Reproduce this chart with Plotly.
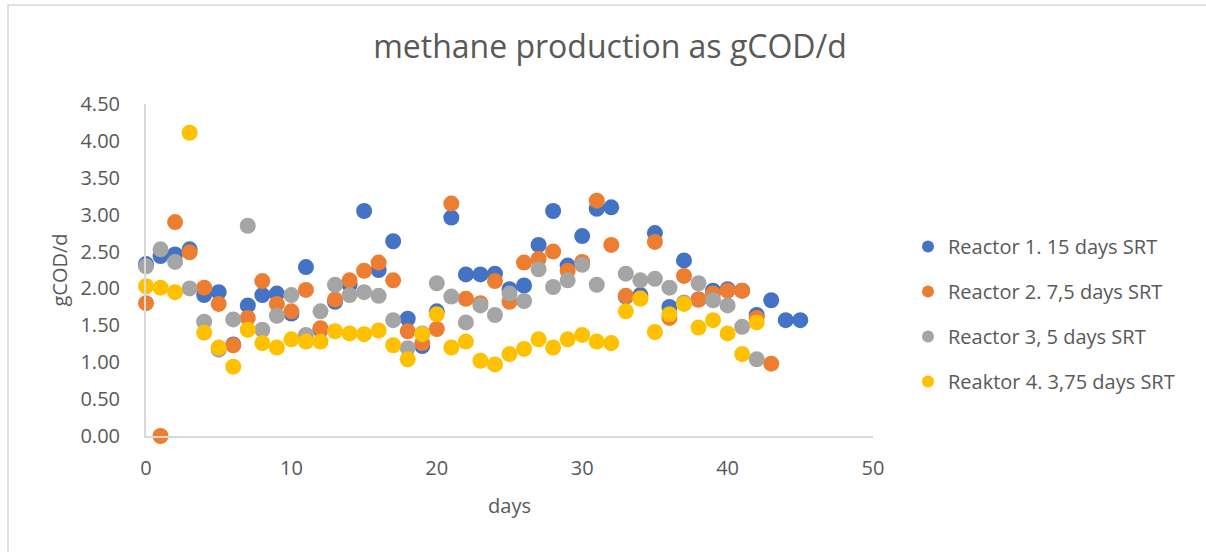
import plotly.graph_objects as go

# Methane production (gCOD/d) per reactor, sampled daily
days_r1 = list(range(0, 46))
reactor1 = [2.33, 2.44, 2.46, 2.53, 1.91, 1.95, 1.24, 1.77, 1.91, 1.93,
            1.66, 2.29, 1.44, 1.82, 2.05, 3.05, 2.25, 2.64, 1.59, 1.22,
            1.69, 2.96, 2.19, 2.19, 2.20, 1.99, 2.04, 2.59, 3.05, 2.31,
            2.71, 3.08, 3.10, 1.89, 1.91, 2.75, 1.75, 2.38, 1.85, 1.97,
            1.99, 1.97, 1.64, 1.84, 1.57, 1.57]

days_r2 = list(range(0, 44))
reactor2 = [1.80, 0.00, 2.90, 2.49, 2.01, 1.79, 1.23, 1.60, 2.10, 1.79,
            1.69, 1.98, 1.46, 1.85, 2.11, 2.24, 2.35, 2.11, 1.42, 1.26,
            1.45, 3.15, 1.86, 1.80, 2.10, 1.82, 2.35, 2.40, 2.50, 2.24,
            2.36, 3.19, 2.59, 1.90, 1.87, 2.63, 1.60, 2.17, 1.85, 1.93,
            1.97, 1.97, 1.60, 0.98]

days_r3 = list(range(0, 43))
reactor3 = [2.30, 2.53, 2.36, 2.00, 1.55, 1.17, 1.58, 2.85, 1.44, 1.63,
            1.91, 1.37, 1.69, 2.05, 1.91, 1.95, 1.90, 1.57, 1.19, 1.39,
            2.07, 1.89, 1.54, 1.77, 1.64, 1.93, 1.83, 2.26, 2.02, 2.11,
            2.32, 2.05, None, 2.20, 2.11, 2.13, 2.01, 1.81, 2.07, 1.84,
            1.77, 1.48, 1.04]

days_r4 = list(range(0, 43))
reactor4 = [2.03, 2.01, 1.95, 4.11, 1.40, 1.20, 0.94, 1.44, 1.26, 1.20,
            1.31, 1.28, 1.28, 1.42, 1.39, 1.38, 1.43, 1.23, 1.04, 1.38,
            1.65, 1.20, 1.28, 1.02, 0.97, 1.11, 1.18, 1.31, 1.20, 1.31,
            1.37, 1.28, 1.26, 1.69, 1.86, 1.41, 1.65, 1.79, 1.47, 1.57,
            1.39, 1.11, 1.54]

series = [
    ("Reactor 1. 15 days SRT", days_r1, reactor1, "#4472C4"),
    ("Reactor 2. 7,5 days SRT", days_r2, reactor2, "#ED7D31"),
    ("Reactor 3, 5 days SRT", days_r3, reactor3, "#A5A5A5"),
    ("Reaktor 4. 3,75 days SRT", days_r4, reactor4, "#FFC000"),
]

x_ticks = [0, 10, 20, 30, 40, 50]
y_ticks = [0, 0.5, 1.0, 1.5, 2.0, 2.5, 3.0, 3.5, 4.0, 4.5]

FONT = "Open Sans"
TEXT = "#595959"
W, H = 1206, 552
L, R, T, B = 146, 873, 104, 436

fig = go.Figure()
for i, (name, xs, ys, col) in enumerate(series):
    fig.add_trace(go.Scatter(
        x=xs, y=ys, mode="markers", name=name,
        legendgroup=f"g{i}",
        marker=dict(color=col, size=16, line=dict(width=0)),
        cliponaxis=False,
    ))

def px_x(p):
    return (p - L) / (R - L)

def px_y(p):
    return (B - p) / (B - T)

fig.update_layout(
    width=W, height=H,
    margin=dict(l=L, r=W - R, t=T, b=H - B),
    paper_bgcolor="white", plot_bgcolor="white",
    font=dict(family=FONT, color=TEXT, size=20),
    title=dict(text="methane production as gCOD/d", x=610 / W, xanchor="center",
               y=1 - 47 / H, yanchor="middle", yref="container",
               font=dict(size=32, color=TEXT, family=FONT)),
    xaxis=dict(range=[0, 50], tickvals=x_ticks, ticktext=[str(v) for v in x_ticks],
               showgrid=False, zeroline=False, showline=True, linecolor="#D9D9D9",
               linewidth=2, ticks="", ticklabelstandoff=13,
               tickfont=dict(size=20, color=TEXT),
               title=dict(text="days", font=dict(size=20, color=TEXT), standoff=19)),
    yaxis=dict(range=[0, 4.5], tickvals=y_ticks, ticktext=[f"{v:.2f}" for v in y_ticks],
               showgrid=False, zeroline=False, showline=True, linecolor="#D9D9D9",
               linewidth=2, ticks="", ticklabelstandoff=20,
               tickfont=dict(size=20, color=TEXT),
               title=dict(text="gCOD/d", font=dict(size=20, color=TEXT), standoff=7)),
    legend=dict(x=px_x(908), xanchor="left", y=px_y(314), yanchor="middle",
                font=dict(size=20, color=TEXT), tracegroupgap=16,
                bgcolor="rgba(0,0,0,0)", itemsizing="constant"),
    shapes=[dict(type="rect", xref="paper", yref="paper",
                 x0=px_x(8), x1=px_x(1212), y0=px_y(560), y1=px_y(5),
                 line=dict(color="#D9D9D9", width=1.5), layer="below")],
)

fig.write_html("out.html")
